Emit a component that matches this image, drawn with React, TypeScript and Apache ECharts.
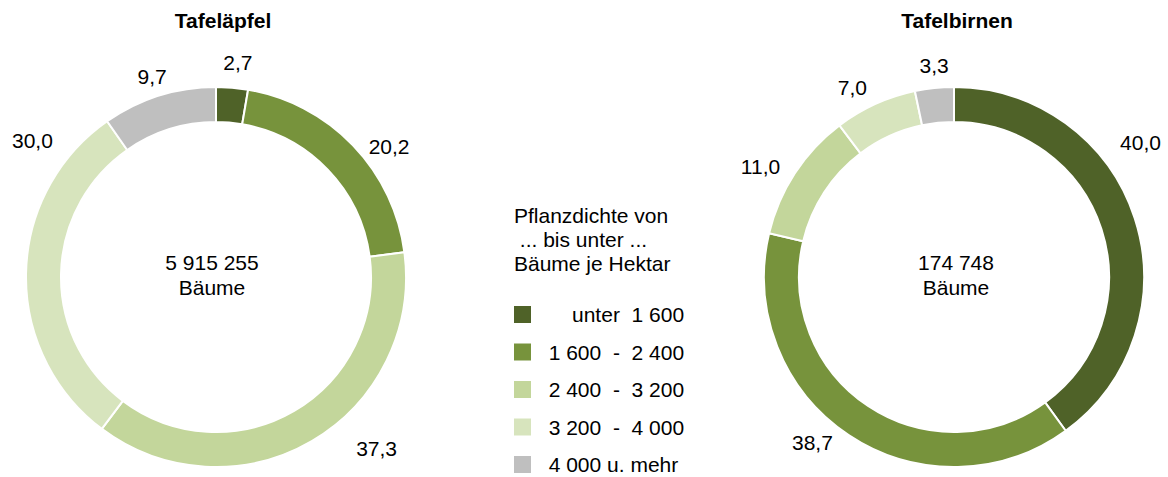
import React, { useEffect, useRef } from "react";
import * as echarts from "echarts";

const categories = ["unter 1 600", "1 600 - 2 400", "2 400 - 3 200", "3 200 - 4 000", "4 000 u. mehr"];
const legendLabels = [
  "\u00a0\u00a0\u00a0\u00a0\u00a0\u00a0unter\u00a0\u00a01\u00a0600",
  "\u00a0\u00a01\u00a0600\u00a0\u00a0-\u00a0\u00a02\u00a0400",
  "\u00a0\u00a02\u00a0400\u00a0\u00a0-\u00a0\u00a03\u00a0200",
  "\u00a0\u00a03\u00a0200\u00a0\u00a0-\u00a0\u00a04\u00a0000",
  "\u00a0\u00a04\u00a0000\u00a0u.\u00a0mehr",
];
const colors = ["#4f6228", "#77933c", "#c3d69b", "#d7e4bd", "#bfbfbf"];
const pieTitles = ["Tafeläpfel", "Tafelbirnen"];
const pieTotals = ["5 915 255", "174 748"];
const apfelValues = [2.7, 20.2, 37.3, 30.0, 9.7];
const birnenValues = [40.0, 38.7, 11.0, 7.0, 3.3];
const legendTitle = "Pflanzdichte von\n\u00a0... bis unter ...\nBäume je Hektar";

// label placement (angle clockwise from top in degrees, distance from centre in px)
const labelPlacement = [
  [[5.8, 216], [52.9, 217], [136.9, 235], [306.7, 229], [342.3, 210]],
  [[54.2, 230], [220.5, 218], [299.8, 223], [331.8, 215], [354.6, 212]],
];
const centers = [[216, 277], [954, 277]];
const FONT = "'Liberation Sans', Arial, sans-serif";

export default function App() {
  const ref = useRef<HTMLDivElement>(null);
  useEffect(() => {
    if (!ref.current) return;
    const chart = echarts.init(ref.current, undefined, { renderer: "svg" });
    const fmt = (v: number) => v.toFixed(1).replace(".", ",");
    const mkSeries = (idx: number, values: number[]) => ({
      type: "pie",
      name: pieTitles[idx],
      center: centers[idx],
      radius: [155, 190],
      startAngle: 90,
      clockwise: true,
      avoidLabelOverlap: false,
      itemStyle: { borderColor: "#ffffff", borderWidth: 2 },
      label: {
        show: true,
        position: "outside",
        formatter: (p: any) => fmt(p.value),
        fontFamily: FONT,
        fontSize: 21,
        color: "#000000",
      },
      labelLine: { show: false },
      emphasis: { disabled: true },
      labelLayout: (p: any) => {
        const [ang, dist] = labelPlacement[idx][p.dataIndex];
        const rad = (ang * Math.PI) / 180;
        return {
          x: centers[idx][0] + dist * Math.sin(rad),
          y: centers[idx][1] - dist * Math.cos(rad),
          align: "center",
          verticalAlign: "middle",
        };
      },
      data: categories.map((c, i) => ({ name: c, value: values[i], itemStyle: { color: colors[i] } })),
    });
    const titleStyle = { fontFamily: FONT, fontSize: 21, fontWeight: "bold", color: "#000" };
    const plainStyle = { fontFamily: FONT, fontSize: 21, fontWeight: "normal", color: "#000" };
    chart.setOption({
      animation: false,
      backgroundColor: "#ffffff",
      textStyle: { fontFamily: FONT },
      title: [
        { text: pieTitles[0], left: 223, top: 10, padding: 0, textAlign: "center", textStyle: titleStyle },
        { text: pieTitles[1], left: 957, top: 10, padding: 0, textAlign: "center", textStyle: titleStyle },
        {
          text: pieTotals[0] + "\nBäume",
          left: 212,
          top: 250,
          padding: 0,
          textAlign: "center",
          textStyle: { ...plainStyle, lineHeight: 25, align: "center" },
        },
        {
          text: pieTotals[1] + "\nBäume",
          left: 956,
          top: 250,
          padding: 0,
          textAlign: "center",
          textStyle: { ...plainStyle, lineHeight: 25, align: "center" },
        },
        {
          text: legendTitle,
          left: 514,
          top: 203,
          padding: 0,
          textStyle: { ...plainStyle, lineHeight: 24 },
        },
      ],
      legend: {
        orient: "vertical",
        left: 512,
        top: 304,
        height: 200,
        padding: 0,
        icon: "rect",
        itemWidth: 19,
        itemHeight: 19,
        itemGap: 16.5,
        selectedMode: false,
        data: categories,
        formatter: (name: string) => legendLabels[categories.indexOf(name)],
        textStyle: { fontFamily: FONT, fontSize: 21, color: "#000" },
      },
      series: [mkSeries(0, apfelValues), mkSeries(1, birnenValues)],
    });
    return () => chart.dispose();
  }, []);
  return <div ref={ref} style={{ position: "absolute", left: 0, top: 0, width: 1168, height: 477 }} />;
}
